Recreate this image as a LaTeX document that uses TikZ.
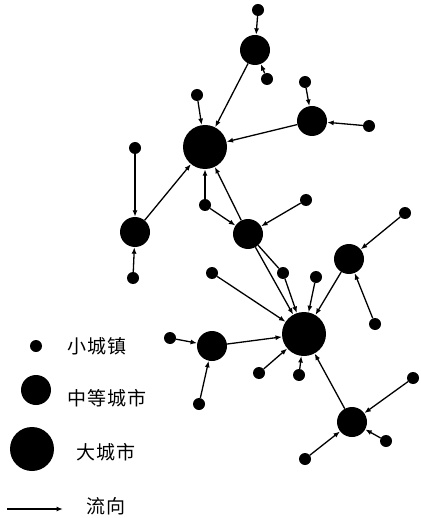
\documentclass[tikz,border=0pt]{standalone}
\usepackage{fontspec}
\newfontfamily\cjk[LetterSpace=5]{Noto Sans CJK SC}
\usetikzlibrary{arrows.meta}
\tikzset{
  town/.style={circle,fill=black,inner sep=0pt,minimum size=12pt},
  midcity/.style={circle,fill=black,inner sep=0pt,minimum size=30pt},
  bigcity/.style={circle,fill=black,inner sep=0pt,minimum size=44pt},
  flow/.style={-{Latex[length=6.5pt,width=5pt]},line width=1.3pt},
  legendtext/.style={font=\cjk\fontsize{19}{19}\selectfont}
}
\begin{document}
\begin{tikzpicture}[x=1pt,y=-1pt]
    \useasboundingbox (0,0) rectangle (420,518);

    % big cities
    \node[bigcity] (L1) at (205,147) {};
    \node[bigcity] (L2) at (304,334) {};

    % medium cities
    \node[midcity] (M1) at (255,50) {};
    \node[midcity] (M2) at (312,121) {};
    \node[midcity] (M3) at (135,232) {};
    \node[midcity] (M4) at (248,234) {};
    \node[midcity] (M5) at (349,259) {};
    \node[midcity] (M6) at (212,346) {};
    \node[midcity] (M7) at (352,422) {};

    % small towns
    \node[town] (s1) at (258,10) {};
    \node[town] (s2) at (267,79) {};
    \node[town] (s3) at (197,95) {};
    \node[town] (s4) at (305,82) {};
    \node[town] (s5) at (369,126) {};
    \node[town] (s6) at (135,148) {};
    \node[town] (s7) at (133,278) {};
    \node[town] (s8) at (205,205) {};
    \node[town] (s9) at (306,200) {};
    \node[town] (s10) at (405,213) {};
    \node[town] (s11) at (212,273) {};
    \node[town] (s12) at (283,273) {};
    \node[town] (s13) at (316,277) {};
    \node[town] (s14) at (375,324) {};
    \node[town] (s15) at (170,338) {};
    \node[town] (s16) at (199,404) {};
    \node[town] (s17) at (259,373) {};
    \node[town] (s18) at (299,375) {};
    \node[town] (s19) at (413,378) {};
    \node[town] (s20) at (386,441) {};
    \node[town] (s21) at (305,459) {};

    % flows
    \foreach \a/\b in {s1/M1,s2/M1,M1/L1,s3/L1,s4/M2,s5/M2,M2/L1,
                       s6/M3,s7/M3,M3/L1,s8/L1,s8/M4,s9/M4,M4/L1,
                       M4/L2,s12/L2,s11/L2,s13/L2,s10/M5,s14/M5,M5/L2,
                       s15/M6,s16/M6,M6/L2,s17/L2,s18/L2,
                       s19/M7,s20/M7,s21/M7,M7/L2}
      \draw[flow] (\a) -- (\b);
    \draw[line width=1.3pt] (M4) -- (s12);

    % legend
    \node[town] (k1) at (36,346) {};
    \node[legendtext] (t1) at (97,346) {小城镇};
    \node[midcity] (k2) at (36,390) {};
    \node[legendtext] (t2) at (107,398) {中等城市};
    \node[bigcity] (k3) at (32,449) {};
    \node[legendtext] (t3) at (106,452) {大城市};
    \coordinate (k4a) at (7,509);
    \coordinate (k4b) at (63,509);
    \draw[flow] (k4a) -- (k4b);
    \node[legendtext] (t4) at (106,506) {流向};
\end{tikzpicture}
\end{document}
